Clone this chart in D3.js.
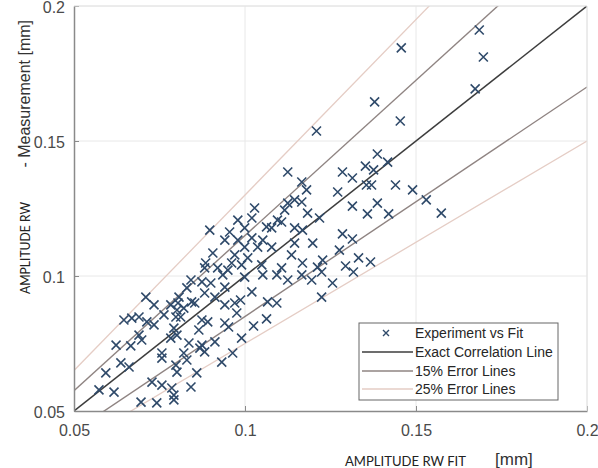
<!DOCTYPE html>
<html><head><meta charset="utf-8">
<script src="https://cdn.jsdelivr.net/npm/d3@7"></script>
<style>html,body{margin:0;padding:0;background:#fff;}svg{display:block;}</style>
</head><body>
<svg id="chart" width="598" height="468"></svg>
<script>
// ---- data ----
const fitX = [0.1685,0.1697,0.1673,0.1457,0.1379,0.1454,0.1209,0.1387,0.1417,0.1352,0.1376,0.1285,0.1314,0.1355,0.1370,0.1440,0.1490,0.1271,0.1530,0.1314,0.1387,0.1358,0.1420,0.1574,0.1285,0.1314,0.1276,0.1332,0.1294,0.1367,0.1317,0.1256,
0.1125,0.1166,0.1180,0.1028,0.1125,0.1145,0.1166,0.1116,0.1183,0.1218,0.0979,0.1020,0.1095,0.1107,0.1063,0.1078,0.0897,0.1145,0.0955,0.0999,0.1168,0.0941,0.0979,0.1020,0.1052,0.1145,0.1198,0.0999,0.1037,0.1078,0.0906,0.0970,0.1136,0.1008,0.1227,0.0961,0.0990,0.1049,0.1168,0.1212,0.0920,0.0950,0.1107,0.0882,0.0935,0.0999,0.1052,0.1093,0.1166,0.1224,0.1125,0.1195,0.0900,0.0941,0.1020,0.0882,0.1224,0.0912,
0.0970,0.0941,0.1066,0.1093,0.0987,0.0976,0.0891,0.0941,0.0952,0.1025,0.1063,0.0912,0.0990,0.0882,0.0964,0.0932,
0.0842,0.0874,0.0830,0.0710,0.0807,0.0734,0.0783,0.0844,0.0821,0.0801,0.0763,0.0646,0.0669,0.0690,0.0713,0.0734,0.0798,0.0812,0.0874,0.0792,0.0865,0.0690,0.0698,0.0801,0.0783,0.0836,0.0874,0.0623,0.0666,0.0868,0.0757,0.0821,0.0637,0.0661,0.0801,0.0798,0.0830,0.0859,0.0593,0.0728,0.0757,0.0573,0.0617,0.0786,0.0792,0.0792,0.0842,0.0696,0.0742,0.0885,0.0804,0.0853,0.0757];
const measY = [0.1911,0.1811,0.1693,0.1845,0.1645,0.1574,0.1537,0.1452,0.1422,0.1407,0.1393,0.1385,0.1363,0.1337,0.1337,0.1337,0.1319,0.1311,0.1282,0.1259,0.1270,0.1230,0.1230,0.1233,0.1156,0.1137,0.1096,0.1067,0.1037,0.1052,0.1015,0.0974,
0.1385,0.1348,0.1319,0.1252,0.1270,0.1282,0.1274,0.1244,0.1233,0.1215,0.1207,0.1215,0.1207,0.1200,0.1182,0.1178,0.1170,0.1178,0.1163,0.1178,0.1170,0.1133,0.1133,0.1141,0.1133,0.1122,0.1122,0.1107,0.1107,0.1107,0.1085,0.1078,0.1078,0.1067,0.1059,0.1048,0.1041,0.1041,0.1048,0.1033,0.1030,0.1022,0.1030,0.1030,0.1004,0.0996,0.1004,0.1004,0.1004,0.1015,0.0985,0.0985,0.0974,0.0959,0.0941,0.0937,0.0922,0.0922,
0.0900,0.0893,0.0904,0.0900,0.0911,0.0863,0.0830,0.0826,0.0811,0.0815,0.0841,0.0756,0.0770,0.0719,0.0715,0.0681,
0.0985,0.0978,0.0956,0.0922,0.0922,0.0893,0.0893,0.0904,0.0881,0.0874,0.0856,0.0837,0.0844,0.0848,0.0830,0.0819,0.0848,0.0848,0.0837,0.0807,0.0800,0.0781,0.0763,0.0781,0.0770,0.0752,0.0744,0.0744,0.0741,0.0733,0.0715,0.0715,0.0678,0.0663,0.0644,0.0670,0.0689,0.0641,0.0641,0.0607,0.0596,0.0578,0.0570,0.0585,0.0559,0.0541,0.0589,0.0533,0.0530,0.1048,0.0900,0.0900,0.0696];
const exactFactor = [1.0];
const err15Factors = [1.15, 0.85];
const err25Factors = [1.30, 0.75];
const xTickValues = [0.05, 0.1, 0.15, 0.2];
const yTickValues = [0.05, 0.1, 0.15, 0.2];
const tickLabels = ["0.05", "0.1", "0.15", "0.2"];
const legendLabels = ["Experiment vs Fit", "Exact Correlation Line", "15% Error Lines", "25% Error Lines"];
const xLabelText = ["AMPLITUDE RW FIT", "[mm]"];
const yLabelText = ["AMPLITUDE RW", "- Measurement [mm]"];

// ---- layout ----
const L = 74, R = 587, T = 6, B = 411;
const svg = d3.select("#chart");
const x = d3.scaleLinear().domain([0.05, 0.2]).range([L, R]);
const y = d3.scaleLinear().domain([0.05, 0.2]).range([B, T]);

svg.append("defs").append("clipPath").attr("id", "clip")
  .append("rect").attr("x", L).attr("y", T).attr("width", R - L).attr("height", B - T);

// grid
const grid = svg.append("g");
grid.selectAll(".gx").data(xTickValues.slice(1)).join("line")
  .attr("x1", d => x(d)).attr("x2", d => x(d)).attr("y1", T).attr("y2", B)
  .attr("stroke", "#e8e8e8").attr("stroke-width", 1);
grid.selectAll(".gy").data(yTickValues.slice(1)).join("line")
  .attr("y1", d => y(d)).attr("y2", d => y(d)).attr("x1", L).attr("x2", R)
  .attr("stroke", "#e8e8e8").attr("stroke-width", 1);

// reference lines
const lineGen = f => d3.line()([[x(0.05), y(0.05 * f)], [x(0.2), y(0.2 * f)]]);
const lines = svg.append("g").attr("clip-path", "url(#clip)");
lines.selectAll(".e25").data(err25Factors).join("path").attr("d", lineGen)
  .attr("stroke", "#e5cdc5").attr("stroke-width", 1.3).attr("fill", "none");
lines.selectAll(".e15").data(err15Factors).join("path").attr("d", lineGen)
  .attr("stroke", "#8f8482").attr("stroke-width", 1.4).attr("fill", "none");
lines.selectAll(".ex").data(exactFactor).join("path").attr("d", lineGen)
  .attr("stroke", "#3d3d3d").attr("stroke-width", 1.5).attr("fill", "none");

// markers
const s = 4.5;
const pts = fitX.map((v, i) => [v, measY[i]]);
svg.append("g").selectAll("path").data(pts).join("path")
  .attr("d", d => { const cx = x(d[0]), cy = y(d[1]);
    return `M${cx-s},${cy-s}L${cx+s},${cy+s}M${cx-s},${cy+s}L${cx+s},${cy-s}`; })
  .attr("stroke", "#2f4a6a").attr("stroke-width", 1.6).attr("fill", "none");

// axes
const ax = svg.append("g").attr("transform", `translate(0,${B})`)
  .call(d3.axisBottom(x).tickValues(xTickValues).tickFormat((d, i) => tickLabels[i]).tickSizeInner(-5).tickSizeOuter(0).tickPadding(14));
const ay = svg.append("g").attr("transform", `translate(${L},0)`)
  .call(d3.axisLeft(y).tickValues(yTickValues).tickFormat((d, i) => tickLabels[i]).tickSizeInner(-5).tickSizeOuter(0).tickPadding(9));
[ax, ay].forEach(g => {
  g.select(".domain").attr("stroke", "#8a8a8a").attr("stroke-width", 1.5);
  g.selectAll(".tick line").attr("stroke", "#8a8a8a").attr("stroke-width", 1);
  g.selectAll(".tick text").attr("fill", "#4a4a4a").style("font-family", "'Liberation Sans', Arial, sans-serif").style("font-size", "16px");
});
ay.selectAll(".tick text").attr("dy", "0.42em");
// light box top/right
svg.append("line").attr("x1", L).attr("x2", R).attr("y1", T).attr("y2", T).attr("stroke", "#e4e4e4");
svg.append("line").attr("x1", R).attr("x2", R).attr("y1", T).attr("y2", B).attr("stroke", "#e4e4e4");

// x label
svg.append("text").attr("x", 345).attr("y", 466).text(xLabelText[0])
  .style("font-family", "Lato, 'Open Sans', sans-serif").style("font-size", "13px").attr("fill", "#222")
  .attr("textLength", 121).attr("lengthAdjust", "spacingAndGlyphs");
svg.append("text").attr("x", 495).attr("y", 465).text(xLabelText[1])
  .style("font-family", "'Liberation Sans', Arial, sans-serif").style("font-size", "17px").attr("fill", "#333");

// y label (two parts)
svg.append("text").attr("transform", "translate(30,294) rotate(-90)").attr("text-anchor", "start")
  .text(yLabelText[0]).attr("fill", "#222")
  .style("font-family", "Lato, 'Open Sans', sans-serif").style("font-size", "13px")
  .attr("textLength", 92).attr("lengthAdjust", "spacingAndGlyphs");
svg.append("text").attr("transform", "translate(30,20) rotate(-90)").attr("text-anchor", "end")
  .text(yLabelText[1]).attr("fill", "#333")
  .style("font-family", "'Liberation Sans', Arial, sans-serif").style("font-size", "16px");

// legend
const lg = svg.append("g");
lg.append("rect").attr("x", 359).attr("y", 323).attr("width", 199).attr("height", 77)
  .attr("fill", "#fff").attr("stroke", "#666").attr("stroke-width", 1);
const rowY = [333, 352, 371, 389];
const legStyles = [null, {c: "#3d3d3d", w: 1.5}, {c: "#8f8482", w: 1.4}, {c: "#e5cdc5", w: 1.3}];
legendLabels.forEach((t, i) => {
  if (i === 0) {
    const cx = 386, cy = rowY[0], m = 3;
    lg.append("path").attr("d", `M${cx-m},${cy-m}L${cx+m},${cy+m}M${cx-m},${cy+m}L${cx+m},${cy-m}`)
      .attr("stroke", "#2f4a6a").attr("stroke-width", 1.4);
  } else {
    lg.append("line").attr("x1", 362).attr("x2", 413).attr("y1", rowY[i]).attr("y2", rowY[i])
      .attr("stroke", legStyles[i].c).attr("stroke-width", legStyles[i].w);
  }
  lg.append("text").attr("x", 415).attr("y", rowY[i] + 5).text(t)
    .style("font-family", "'Liberation Sans', Arial, sans-serif").style("font-size", "14px").attr("fill", "#262626");
});
</script>
</body></html>
